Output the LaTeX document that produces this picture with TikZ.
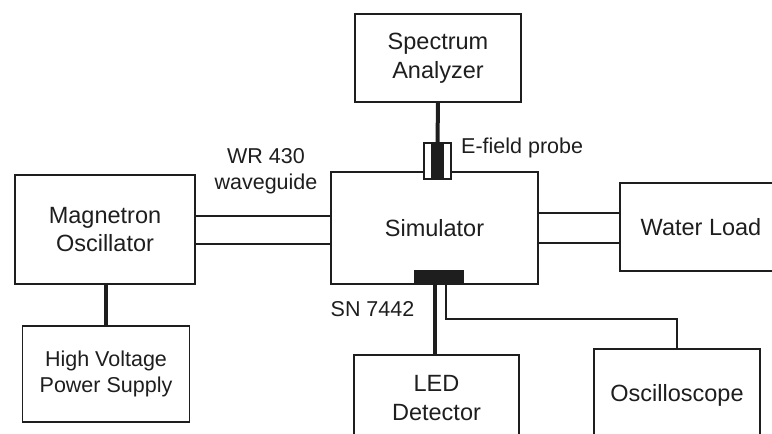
\documentclass[tikz,border=0pt]{standalone}
\usepackage{fontspec}
\setmainfont{Liberation Sans}
\usepackage{tikz}
\usetikzlibrary{positioning}
\definecolor{ink}{HTML}{1E1E1E}

\tikzset{
  block/.style={draw=ink, line width=1.8pt, fill=white, text=ink, align=center,
    inner sep=0pt, font=\fontsize{23.5}{28.5}\selectfont},
  smallblock/.style={block, font=\fontsize{21.5}{25.5}\selectfont},
  tag/.style={text=ink, align=center, inner sep=0pt, font=\fontsize{21.5}{25.5}\selectfont},
  lead/.style={draw=ink, line width=4pt},
  wire/.style={draw=ink, line width=1.8pt},
}

\begin{document}
\begin{tikzpicture}[x=1pt, y=-1pt]
    \useasboundingbox (0,0) rectangle (772,434);
    \clip (0,0) rectangle (772,434);

    % instruments
    \node[block, minimum width=166pt, minimum height=88pt] (spec) at (438,58) {Spectrum\\Analyzer};
    \node[block, minimum width=207pt, minimum height=112pt] (sim) at (434.5,228) {Simulator};
    \node[block, minimum width=180pt, minimum height=109pt] (mag) at (105,229.5) {Magnetron\\Oscillator};
    \node[smallblock, minimum width=167pt, minimum height=96pt] (hvps) at (106,374) {High Voltage\\Power Supply};
    \node[block, minimum width=162pt, minimum height=88pt] (water) at (701,227) {Water Load};
    \node[block, minimum width=165pt, minimum height=86pt] (led) at (436.5,398) {LED\\Detector};
    \node[block, minimum width=166pt, minimum height=92pt] (osc) at (677,395) {Oscilloscope};

    % waveguides
    \foreach \y in {216,244} {
      \draw[wire] (mag.east |- 0,\y) -- (sim.west |- 0,\y);
    }
    \foreach \y in {213,243} {
      \draw[wire] (sim.east |- 0,\y) -- (water.west |- 0,\y);
    }

    % probe and detector chip
    \node[draw=ink, line width=1.5pt, fill=white, minimum width=27pt, minimum height=36pt, inner sep=0pt] (probe) at (437.5,161) {};
    \node[fill=ink, minimum width=13pt, minimum height=36pt, inner sep=0pt] (core) at (probe.center) {};
    \node[fill=ink, minimum width=50pt, minimum height=15pt, inner sep=0pt] (chip) at (439,277.5) {};
    \coordinate (bend) at (446,319);

    % connections
    \draw[lead] (spec.south) -- (probe.north);
    \draw[lead] (hvps.north) -- (hvps.north |- mag.south);
    \draw[lead] (led.north -| 435,0) -- (chip.south -| 435,0);
    \draw[wire] (chip.south -| bend) -- (bend) -| (osc.north);

    % labels
    \node[tag] (wg) at (266,171) {WR 430\\waveguide};
    \node[tag, anchor=west] (eprobe) at (461,148) {E-field probe};
    \node[tag] (sn) at (372.5,309) {SN 7442};
\end{tikzpicture}
\end{document}
